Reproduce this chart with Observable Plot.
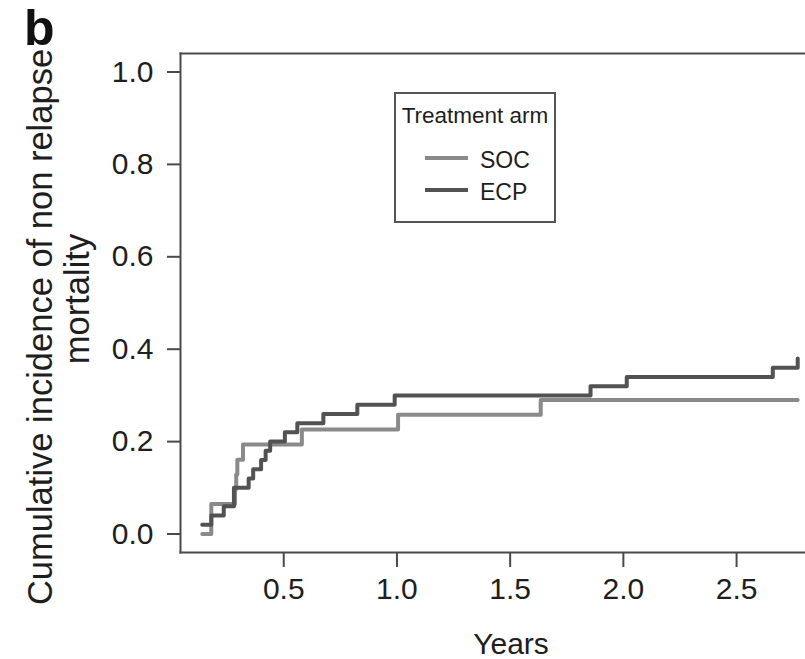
<!DOCTYPE html>
<html>
<head>
<meta charset="utf-8">
<script src="https://cdn.jsdelivr.net/npm/d3@7"></script>
<script src="https://cdn.jsdelivr.net/npm/@observablehq/plot@0.6"></script>
<style>
  body { margin: 0; background: white; }
  #wrap { position: relative; width: 805px; height: 659px; overflow: hidden; font-family: "Liberation Sans", Arial, Helvetica, sans-serif; }
  #panel { position: absolute; left: 24px; top: 3px; font-size: 50px; font-weight: bold; line-height: 50px; color: #111; }
  #legend { position: absolute; left: 0; top: 0; pointer-events: none; }
</style>
</head>
<body>
<div id="wrap">
  <div id="chart"></div>
  <div id="panel">b</div>
  <svg id="legend" width="805" height="659"></svg>
</div>
<script>
// Data
const seriesNames = ["SOC", "ECP"];
const seriesColors = ["#8a8a8a", "#525252"];
const socYears = [0.14, 0.18, 0.285, 0.29, 0.295, 0.32, 0.58, 1.005, 1.635, 2.77];
const socCIF   = [0.0, 0.065, 0.097, 0.129, 0.161, 0.194, 0.226, 0.258, 0.29, 0.29];
const ecpYears = [0.14, 0.18, 0.235, 0.28, 0.345, 0.365, 0.40, 0.42, 0.44, 0.505, 0.56, 0.675, 0.825, 0.99, 1.855, 2.015, 2.66, 2.77];
const ecpCIF   = [0.02, 0.04, 0.06, 0.10, 0.12, 0.14, 0.16, 0.18, 0.20, 0.22, 0.24, 0.26, 0.28, 0.30, 0.32, 0.34, 0.36, 0.38];
const xTicks = [0.5, 1.0, 1.5, 2.0, 2.5];
const yTicks = [0.0, 0.2, 0.4, 0.6, 0.8, 1.0];
const xLabel = "Years";
const yLabelLines = ["Cumulative incidence of non relapse", "mortality"];
const legendTitle = "Treatment arm";

const rows = [
  ...socYears.map((t, i) => ({arm: "SOC", t, v: socCIF[i]})),
  ...ecpYears.map((t, i) => ({arm: "ECP", t, v: ecpCIF[i]}))
];

const axisColor = "#4a4a4a";
const textColor = "#1e1e1e";
const chart = Plot.plot({
  width: 805,
  height: 659,
  marginTop: 53,
  marginBottom: 107,
  marginLeft: 180,
  marginRight: 0,
  style: {fontFamily: "'Liberation Sans', Arial, Helvetica, sans-serif", fontSize: "30px", color: textColor, background: "white"},
  x: {domain: [0.044, 2.906], range: [180, 828]},
  y: {domain: [-0.04, 1.04]},
  color: {domain: seriesNames, range: seriesColors},
  marks: [
    Plot.frame({anchor: "top", stroke: axisColor, strokeWidth: 2}),
    Plot.frame({anchor: "left", stroke: axisColor, strokeWidth: 2}),
    Plot.frame({anchor: "bottom", stroke: axisColor, strokeWidth: 2}),
    Plot.axisX({ticks: xTicks, tickFormat: d3.format(".1f"), tickSize: 15, tickPadding: 10, label: null, stroke: axisColor, strokeWidth: 2, fontSize: 30}),
    Plot.axisY({ticks: yTicks, tickFormat: d3.format(".1f"), tickSize: 13, tickPadding: 14, label: null, stroke: axisColor, strokeWidth: 2, fontSize: 30}),
    Plot.line(rows, {x: "t", y: "v", z: "arm", stroke: "arm", curve: "step-after", strokeWidth: 4}),
    Plot.text([xLabel], {frameAnchor: "bottom", lineAnchor: "bottom", dy: 101, dx: 18, fontSize: 30, fill: textColor}),
    Plot.text([yLabelLines[0]], {frameAnchor: "left", textAnchor: "middle", lineAnchor: "middle", rotate: -90, dx: -140, dy: 24, fontSize: 34.5, fill: textColor}),
    Plot.text([yLabelLines[1]], {frameAnchor: "left", textAnchor: "middle", lineAnchor: "middle", rotate: -90, dx: -103, dy: -4, fontSize: 34.5, fill: textColor})
  ]
});
document.getElementById("chart").appendChild(chart);

// Legend box
const lg = d3.select("#legend");
lg.append("rect").attr("x", 395).attr("y", 93).attr("width", 160).attr("height", 129)
  .attr("fill", "white").attr("stroke", "#555").attr("stroke-width", 2);
lg.append("text").attr("x", 475).attr("y", 123).attr("text-anchor", "middle")
  .attr("font-size", 22.5).attr("fill", textColor).attr("font-family", "'Liberation Sans', Arial, sans-serif")
  .text(legendTitle);
seriesNames.forEach((name, i) => {
  const yy = 158 + i * 32;
  lg.append("line").attr("x1", 425).attr("x2", 468).attr("y1", yy).attr("y2", yy)
    .attr("stroke", seriesColors[i]).attr("stroke-width", 4);
  lg.append("text").attr("x", 480).attr("y", yy + 10).attr("font-size", 23)
    .attr("fill", textColor).attr("font-family", "'Liberation Sans', Arial, sans-serif").text(name);
});
</script>
</body>
</html>
